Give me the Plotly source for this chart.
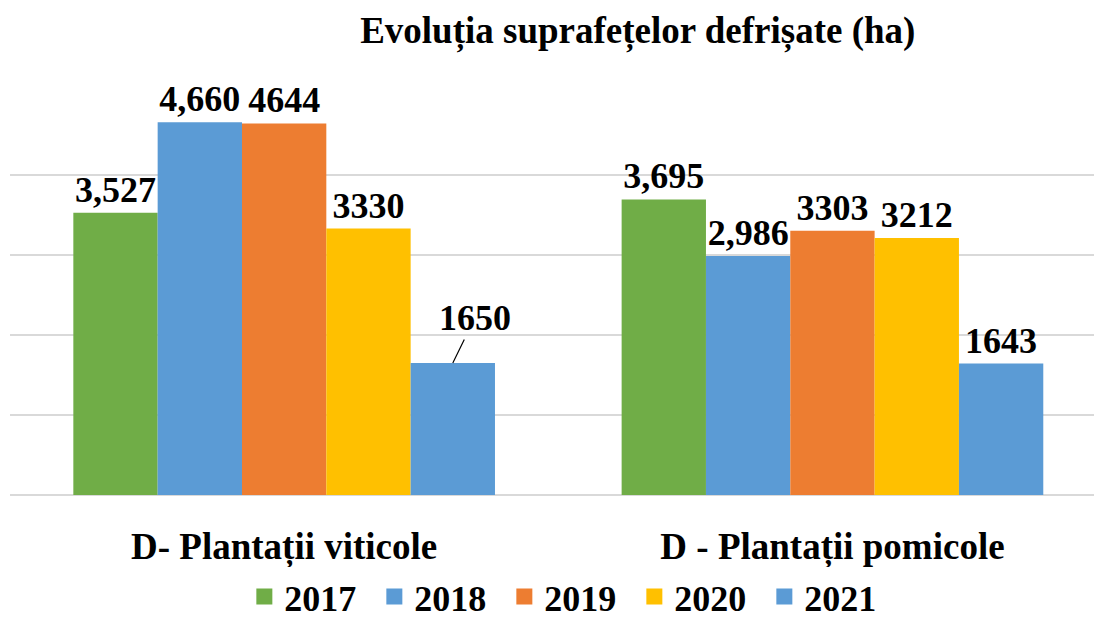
import plotly.graph_objects as go

categories = ["D- Plantații viticole", "D - Plantații pomicole"]
years = ["2017", "2018", "2019", "2020", "2021"]
values = {
    "2017": [3527, 3695],
    "2018": [4660, 2986],
    "2019": [4644, 3303],
    "2020": [3330, 3212],
    "2021": [1650, 1643],
}
labels = {
    "2017": ["3,527", "3,695"],
    "2018": ["4,660", "2,986"],
    "2019": ["4644", "3303"],
    "2020": ["3330", "3212"],
    "2021": ["1650", "1643"],
}
colors = ["#70AD47", "#5B9BD5", "#ED7D31", "#FFC000", "#5B9BD5"]

FONT = "'Liberation Serif', 'Times New Roman', 'DejaVu Serif', serif"
bargap = 0.231
n = len(years)

fig = go.Figure()
for i, y in enumerate(years):
    txt = list(labels[y])
    if y == "2021":
        txt[0] = ""  # shown with leader line annotation
    fig.add_trace(go.Bar(
        name=y, x=categories, y=values[y], text=txt, showlegend=False,
        textposition="outside", cliponaxis=False, constraintext="none",
        textfont=dict(family=FONT, size=36, color="black", weight="bold"),
        marker=dict(color=colors[i], line=dict(width=0)),
    ))
# legend entries with larger square swatches
for i, y in enumerate(years):
    fig.add_trace(go.Scatter(
        name=y, x=[None], y=[None], mode="markers", showlegend=True,
        marker=dict(symbol="square", size=18, color=colors[i]),
    ))

# leader-line label for 2021 in first category
gw = 1 - bargap
bw = gw / n
xoff = -gw / 2 + bw * (n - 1 + 0.5)
fig.add_annotation(
    x=0 + xoff, y=values["2021"][0], xref="x", yref="y",
    text="<b>" + labels["2021"][0] + "</b>", showarrow=True, arrowhead=0,
    arrowwidth=1.2, arrowcolor="black", ax=22, ay=-45,
    font=dict(family=FONT, size=36, color="black"),
)

fig.update_layout(
    width=1094, height=619,
    barmode="group", bargap=bargap, bargroupgap=0,
    plot_bgcolor="white", paper_bgcolor="white",
    margin=dict(l=10, r=0, t=95, b=124, autoexpand=False),
    title=dict(text="<b>Evoluția suprafețelor defrișate (ha)</b>",
               x=0.583, xanchor="center", y=0.952, yanchor="middle",
               font=dict(family=FONT, size=37, color="black")),
    xaxis=dict(type="category", range=[-0.5, 1.477], showgrid=False,
               showline=False, ticks="", automargin=False, ticklabelstandoff=26,
               tickfont=dict(family=FONT, size=37, color="black", weight="bold")),
    yaxis=dict(range=[0, 5000], dtick=1000, showticklabels=False, automargin=False,
               gridcolor="#D9D9D9", gridwidth=1.5, zeroline=True,
               zerolinecolor="#D9D9D9", zerolinewidth=1.5),
    legend=dict(orientation="h", x=0.516, xanchor="center", yref="container",
                y=0.036, yanchor="middle", entrywidth=85, itemsizing="trace",
                font=dict(family=FONT, size=36, color="black", weight="bold")),
    showlegend=True,
)
fig.write_html("out.html", config={"displayModeBar": False},
               post_script="document.body.style.margin='0';")
